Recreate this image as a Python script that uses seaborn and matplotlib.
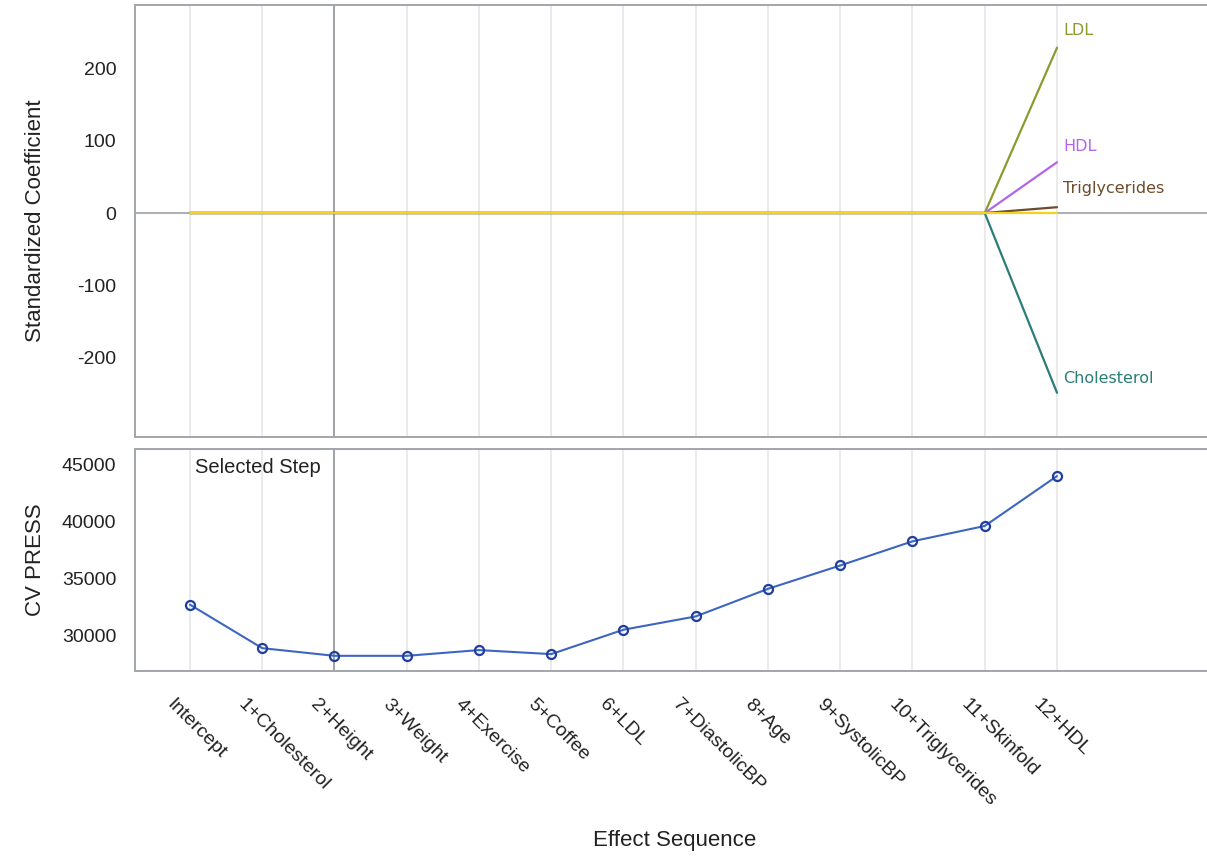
import numpy as np
import pandas as pd
import matplotlib
matplotlib.use("Agg")
import matplotlib.pyplot as plt
import matplotlib.transforms as mtransforms
import seaborn as sns

# Effect sequence (step labels)
steps = ["Intercept", "1+Cholesterol", "2+Height", "3+Weight", "4+Exercise",
         "5+Coffee", "6+LDL", "7+DiastolicBP", "8+Age", "9+SystolicBP",
         "10+Triglycerides", "11+Skinfold", "12+HDL"]

# Standardized coefficients along the sequence
coef_ldl = [0, 0, 0, 0, 0, 0, 0, 0, 0, 0, 0, 0, 228]
coef_hdl = [0, 0, 0, 0, 0, 0, 0, 0, 0, 0, 0, 0, 70]
coef_trig = [0, 0, 0, 0, 0, 0, 0, 0, 0, 0, 0, 0, 8]
coef_chol = [0, 0, 0, 0, 0, 0, 0, 0, 0, 0, 0, 0, -248]
coef_other = [0, 0, 0, 0, 0, 0, 0, 0, 0, 0, 0, 0, 0]

# Cross-validated PRESS at each step
cv_press = [32720, 28920, 28250, 28250, 28750, 28400, 30530,
            31690, 34100, 36140, 38250, 39590, 43950]

selected_step = 2

sns.set_style("white")
plt.rcParams["font.family"] = ["Liberation Sans", "DejaVu Sans"]
plt.rcParams["axes.unicode_minus"] = False

frame_col = "#a2a6aa"
grid_col = "#e4e4e4"
text_col = "#222222"

fig = plt.figure(figsize=(12.07, 8.56), dpi=100)
ax1 = fig.add_axes([0.1118, 0.4895, 0.9082, 0.5047])
ax2 = fig.add_axes([0.1118, 0.2162, 0.9082, 0.2593])

x = np.arange(len(steps))
effects = ["Triglycerides", "LDL", "HDL", "Cholesterol", "Other"]
coef_df = pd.DataFrame({
    "step": np.tile(x, len(effects)),
    "coef": coef_trig + coef_ldl + coef_hdl + coef_chol + coef_other,
    "effect": np.repeat(effects, len(x)),
})
palette = {"Other": "#f5d21e", "Triglycerides": "#6e4b2a", "LDL": "#8d9a2f",
           "HDL": "#b265ec", "Cholesterol": "#2a7d78"}

xlim = (-0.761, 14.41)
for ax in (ax1, ax2):
    for xi in x:
        ax.axvline(xi, color=grid_col, lw=1.1, zorder=0)
    ax.axvline(selected_step, color="#9ea2a6", lw=1.4, zorder=1)
    ax.set_xlim(*xlim)
    for s in ("left", "bottom", "top"):
        ax.spines[s].set_color(frame_col)
        ax.spines[s].set_linewidth(1.4)
    ax.spines["right"].set_visible(False)
    ax.tick_params(axis="both", colors=frame_col, length=8.5, width=1.2,
                   labelcolor=text_col, labelsize=14, pad=5)

# Top panel: coefficient paths
ax1.axhline(0, color="#9ea2a6", lw=1.2, zorder=1)
sns.lineplot(data=coef_df, x="step", y="coef", hue="effect", palette=palette,
             hue_order=effects, legend=False, lw=1.6, ax=ax1, zorder=3)
ax1.set_ylim(-309, 287)
ax1.set_yticks([-200, -100, 0, 100, 200])
ax1.set_xticks(x)
ax1.set_xticklabels([])
ax1.tick_params(axis="x", length=0)
ax1.set_xlabel("")
ax1.set_ylabel("Standardized Coefficient", fontsize=16, color=text_col)
ax1.yaxis.set_label_coords(-0.081, 0.5)

end_labels = [("LDL", coef_ldl[-1], 17), ("HDL", coef_hdl[-1], 16),
              ("Triglycerides", coef_trig[-1], 19), ("Cholesterol", coef_chol[-1], 14)]
for name, val, dy in end_labels:
    ax1.annotate(name, xy=(x[-1], val), xytext=(6, dy), textcoords="offset pixels",
                 color=palette[name], fontsize=11.5, ha="left", va="center",
                 family=["DejaVu Sans"])

# Bottom panel: CV PRESS
press_df = pd.DataFrame({"step": x, "press": cv_press})
sns.lineplot(data=press_df, x="step", y="press", ax=ax2, color="#3d66c2", lw=1.5,
             marker="o", markersize=6.5, markerfacecolor="none",
             markeredgecolor="#1f3f9e", markeredgewidth=1.6, zorder=3)
ax2.set_ylim(26930, 46316)
ax2.set_yticks([30000, 35000, 40000, 45000])
ax2.set_xticks(x)
ax2.set_xticklabels(steps, rotation=-45, ha="left", va="top",
                    rotation_mode="anchor", fontsize=14)
shift = mtransforms.ScaledTranslation(-0.15, -0.06, fig.dpi_scale_trans)
for lab in ax2.get_xticklabels():
    lab.set_transform(lab.get_transform() + shift)
ax2.set_ylabel("CV PRESS", fontsize=16, color=text_col)
ax2.yaxis.set_label_coords(-0.081, 0.5)
ax2.set_xlabel("Effect Sequence", fontsize=16, color=text_col)
ax2.xaxis.set_label_coords(0.492, -0.715)
ax2.text(0.07, 44700, "Selected Step", fontsize=14.5, color=text_col,
         ha="left", va="center")

fig.savefig("out.png", dpi=100)
